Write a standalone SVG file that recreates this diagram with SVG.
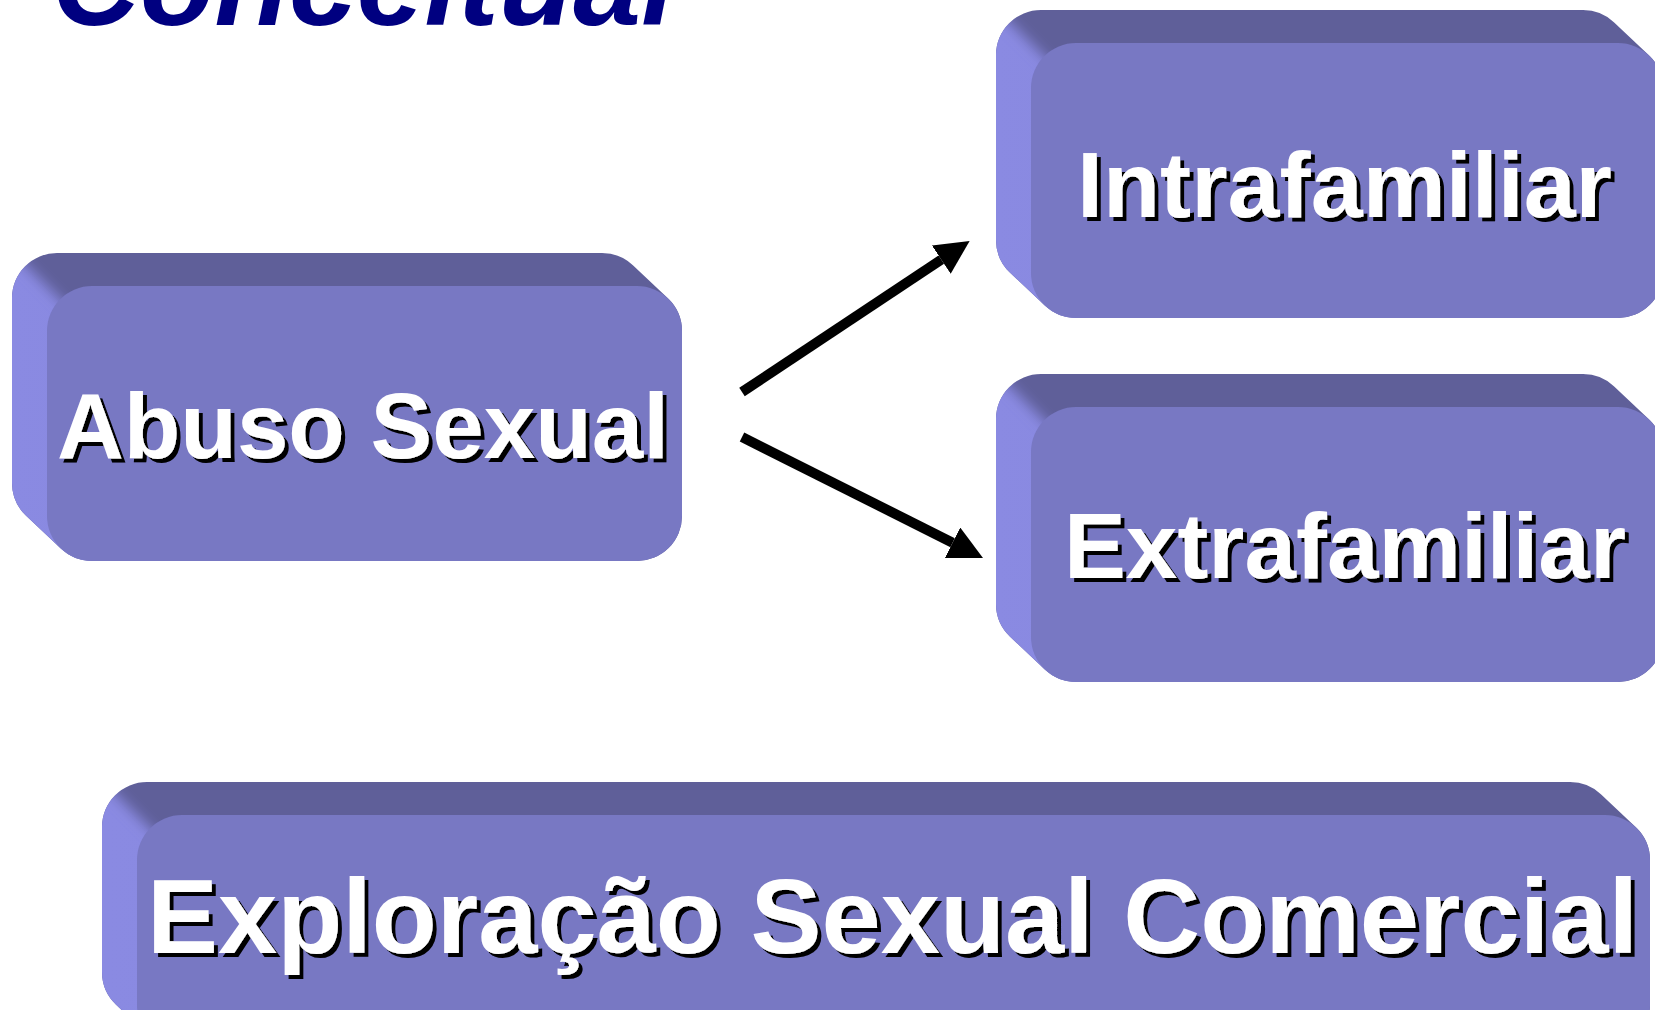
<svg xmlns="http://www.w3.org/2000/svg" width="1655" height="1010" viewBox="0 0 1655 1010">
<style>
.top{fill:#5f5f99}
.left{fill:url(#gl)}
.front{fill:#7878c3}
.lbl{font-family:"Liberation Sans",Arial,sans-serif;font-weight:bold;fill:#ffffff;filter:url(#sh)}
.title{font-family:"Liberation Sans",Arial,sans-serif;font-weight:bold;font-style:italic;fill:#000080}
.conn{stroke:#000;stroke-width:10;fill:none;marker-end:url(#ah)}
.mp{fill:#fff;filter:url(#bl)}
</style>
<defs>
<linearGradient id="gl" x1="0" y1="0" x2="1" y2="0">
<stop offset="0" stop-color="#8a8ae2"/>
<stop offset="1" stop-color="#8282d6"/>
</linearGradient>
<filter id="sh" x="-5%" y="-10%" width="110%" height="130%">
<feDropShadow dx="4" dy="4" stdDeviation="0" flood-color="#000" flood-opacity="1"/>
</filter>
<filter id="bl" x="-10%" y="-10%" width="120%" height="120%">
<feGaussianBlur stdDeviation="7"/>
</filter>
<marker id="ah" viewBox="0 0 34 34" refX="0" refY="17" markerWidth="34" markerHeight="34" markerUnits="userSpaceOnUse" orient="auto">
<path d="M0,0 L34,17 L0,34 z" fill="#000"/>
</marker>
<mask id="m1" maskUnits="userSpaceOnUse" x="0" y="0" width="1655" height="1010"><polygon class="mp" points="-953,-714 2047,2286 -953,2286"/></mask>
<mask id="m2" maskUnits="userSpaceOnUse" x="0" y="0" width="1655" height="1010"><polygon class="mp" points="31,-957 3031,2043 31,2043"/></mask>
<mask id="m3" maskUnits="userSpaceOnUse" x="0" y="0" width="1655" height="1010"><polygon class="mp" points="31,-593 3031,2407 31,2407"/></mask>
<mask id="m4" maskUnits="userSpaceOnUse" x="0" y="0" width="1655" height="1010"><polygon class="mp" points="-863,-185 2137,2815 -863,2815"/></mask>
</defs>
<rect width="1655" height="1010" fill="#fff"/>
<text class="title" x="52" y="25" font-size="120" textLength="623" lengthAdjust="spacingAndGlyphs">Conceitual</text>

<g id="abuso">
<path class="top" d="M57,253 H602 A45,45 0 0 1 632.9,265.2 L667.9,298.2 A45,45 0 0 1 682,331 V516 A45,45 0 0 1 637,561 H92 A45,45 0 0 1 61.1,548.8 L26.1,515.8 A45,45 0 0 1 12,483 V298 A45,45 0 0 1 57,253 Z"/>
<path class="left" mask="url(#m1)" d="M57,253 H602 A45,45 0 0 1 632.9,265.2 L667.9,298.2 A45,45 0 0 1 682,331 V516 A45,45 0 0 1 637,561 H92 A45,45 0 0 1 61.1,548.8 L26.1,515.8 A45,45 0 0 1 12,483 V298 A45,45 0 0 1 57,253 Z"/>
<rect class="front" x="47" y="286" width="635" height="275" rx="45"/>
<text class="lbl" x="57" y="458" font-size="92" textLength="612" lengthAdjust="spacingAndGlyphs">Abuso Sexual</text>
</g>

<g id="intra">
<path class="top" d="M1041,10 H1583 A45,45 0 0 1 1613.9,22.2 L1648.9,55.2 A45,45 0 0 1 1663,88 V273 A45,45 0 0 1 1618,318 H1076 A45,45 0 0 1 1045.1,305.8 L1010.1,272.8 A45,45 0 0 1 996,240 V55 A45,45 0 0 1 1041,10 Z"/>
<path class="left" mask="url(#m2)" d="M1041,10 H1583 A45,45 0 0 1 1613.9,22.2 L1648.9,55.2 A45,45 0 0 1 1663,88 V273 A45,45 0 0 1 1618,318 H1076 A45,45 0 0 1 1045.1,305.8 L1010.1,272.8 A45,45 0 0 1 996,240 V55 A45,45 0 0 1 1041,10 Z"/>
<rect class="front" x="1031" y="43" width="632" height="275" rx="45"/>
<text class="lbl" x="1077" y="217" font-size="92" textLength="535" lengthAdjust="spacingAndGlyphs">Intrafamiliar</text>
</g>

<g id="extra">
<path class="top" d="M1041,374 H1583 A45,45 0 0 1 1613.9,386.2 L1648.9,419.2 A45,45 0 0 1 1663,452 V637 A45,45 0 0 1 1618,682 H1076 A45,45 0 0 1 1045.1,669.8 L1010.1,636.8 A45,45 0 0 1 996,604 V419 A45,45 0 0 1 1041,374 Z"/>
<path class="left" mask="url(#m3)" d="M1041,374 H1583 A45,45 0 0 1 1613.9,386.2 L1648.9,419.2 A45,45 0 0 1 1663,452 V637 A45,45 0 0 1 1618,682 H1076 A45,45 0 0 1 1045.1,669.8 L1010.1,636.8 A45,45 0 0 1 996,604 V419 A45,45 0 0 1 1041,374 Z"/>
<rect class="front" x="1031" y="407" width="632" height="275" rx="45"/>
<text class="lbl" x="1064" y="578" font-size="92" textLength="562" lengthAdjust="spacingAndGlyphs">Extrafamiliar</text>
</g>

<g id="exploracao">
<path class="top" d="M147,782 H1570 A45,45 0 0 1 1600.9,794.2 L1635.9,827.2 A45,45 0 0 1 1650,860 V1005 A45,45 0 0 1 1605,1050 H182 A45,45 0 0 1 151.1,1037.8 L116.1,1004.8 A45,45 0 0 1 102,972 V827 A45,45 0 0 1 147,782 Z"/>
<path class="left" mask="url(#m4)" d="M147,782 H1570 A45,45 0 0 1 1600.9,794.2 L1635.9,827.2 A45,45 0 0 1 1650,860 V1005 A45,45 0 0 1 1605,1050 H182 A45,45 0 0 1 151.1,1037.8 L116.1,1004.8 A45,45 0 0 1 102,972 V827 A45,45 0 0 1 147,782 Z"/>
<rect class="front" x="137" y="815" width="1513" height="235" rx="45"/>
<text class="lbl" x="147" y="953" font-size="105" textLength="1491" lengthAdjust="spacingAndGlyphs">Exploração Sexual Comercial</text>
</g>

<g id="connectors">
<line class="conn" x1="742" y1="392" x2="941.3" y2="259.7"/>
<line class="conn" x1="742" y1="437" x2="952.6" y2="542.7"/>
</g>
</svg>
